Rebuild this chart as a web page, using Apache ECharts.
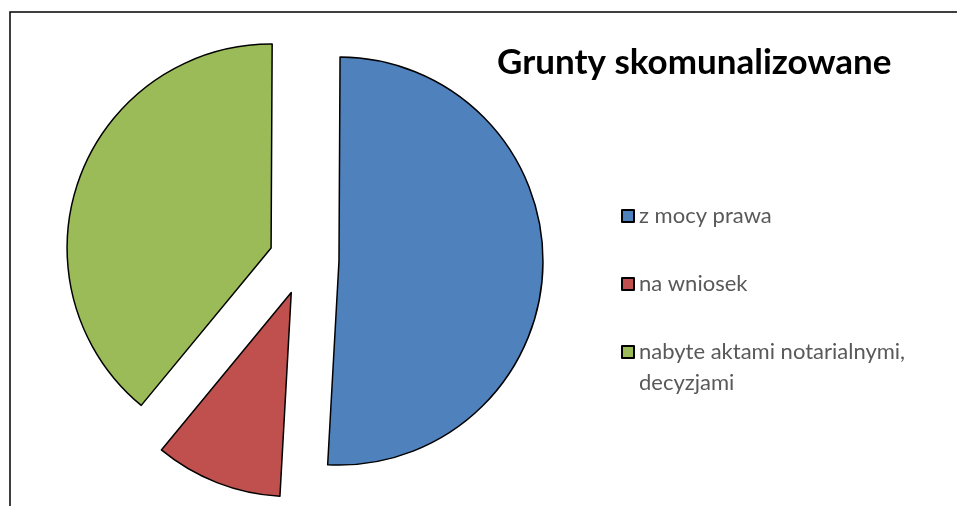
<!DOCTYPE html>
<html>
<head>
<meta charset="utf-8">
<script src="https://cdn.jsdelivr.net/npm/echarts@6/dist/echarts.min.js"></script>
<style>
  html, body { margin: 0; padding: 0; background: #fff; }
  #chart { width: 957px; height: 506px; }
</style>
</head>
<body>
<div id="chart"></div>
<script>
// Land taken into municipal ownership, by acquisition route (share, %)
const categories = ['z mocy prawa', 'na wniosek', 'nabyte aktami notarialnymi, decyzjami'];
const shares = [50.8, 10.1, 39.1];
const colors = ['#4F81BD', '#C0504D', '#9BBB59'];
const titleText = 'Grunty skomunalizowane';

const FONT = 'Lato, "Open Sans", sans-serif';
// legend rows: the wrapped entry gets an empty leading line so its
// marker stays level with the first line of text
const legendTops = [200.5, 268.5, 305.5];

const chart = echarts.init(document.getElementById('chart'), null, { renderer: 'canvas' });

const legends = categories.map((name, i) => ({
  orient: 'vertical',
  left: 621,
  top: legendTops[i],
  padding: 0,
  data: [name],
  icon: 'rect',
  itemWidth: 12,
  itemHeight: 12,
  itemGap: 0,
  selectedMode: false,
  formatter: n => (n.indexOf(', ') >= 0 ? ' \n' + n.replace(', ', ',\n') : n),
  textStyle: {
    fontFamily: FONT,
    fontSize: 22,
    color: '#595959',
    lineHeight: 31
  }
}));

chart.setOption({
  animation: false,
  backgroundColor: '#fff',
  title: {
    text: titleText,
    left: 497,
    top: 45,
    padding: 0,
    textStyle: { fontFamily: FONT, fontWeight: 'bold', fontSize: 35, color: '#000' }
  },
  legend: legends,
  graphic: [{
    type: 'polyline',
    shape: { points: [[10, 600], [10, 12], [1000, 12]] },
    style: { fill: null, stroke: '#000', lineWidth: 1.5 },
    silent: true,
    z: 100
  }],
  series: [{
    type: 'pie',
    center: [304, 260],
    radius: 204,
    startAngle: 89.7,
    clockwise: true,
    selectedMode: 'multiple',
    selectedOffset: 35,
    label: { show: false },
    labelLine: { show: false },
    emphasis: { disabled: true },
    itemStyle: { borderColor: '#000', borderWidth: 1.5 },
    data: categories.map((name, i) => ({
      name,
      value: shares[i],
      selected: true,
      itemStyle: { color: colors[i] }
    }))
  }]
});
</script>
</body>
</html>
